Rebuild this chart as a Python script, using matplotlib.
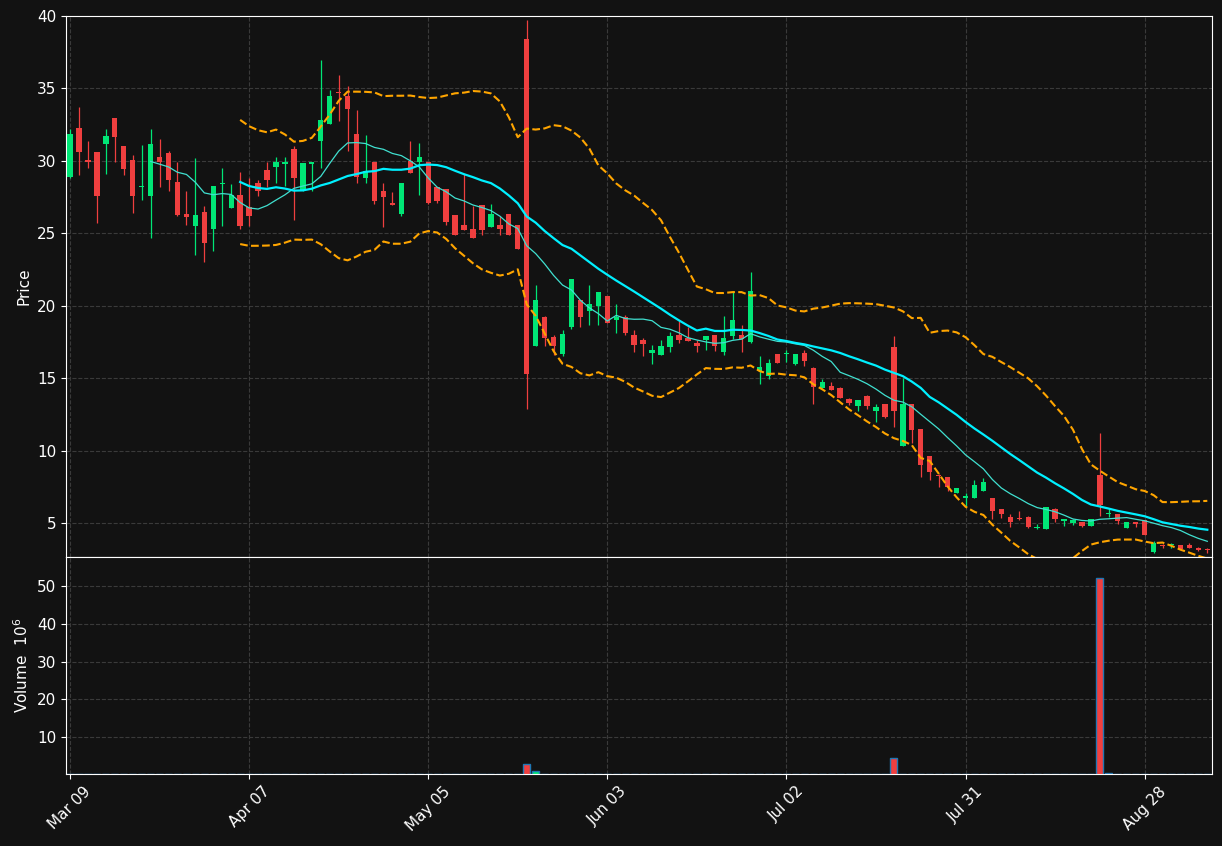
import numpy as np
import pandas as pd
import matplotlib
matplotlib.use("Agg")
import matplotlib.pyplot as plt

opens = [28.9,32.2,30.0,30.6,31.2,32.9,31.0,30.0,28.2,27.6,30.2,30.5,28.5,26.3,25.5,26.45,25.3,28.4,26.75,27.6,
         26.75,28.45,29.35,29.6,29.8,30.75,27.9,29.8,31.35,32.55,34.75,34.45,31.85,28.85,29.9,27.85,27.05,26.3,29.95,29.9,
         29.85,28.15,28.05,26.2,25.5,25.25,26.9,25.45,25.5,26.3,25.5,38.4,17.25,19.2,17.8,16.7,18.55,20.35,19.65,19.95,
         20.6,19.0,19.2,17.95,17.6,16.75,16.6,17.15,17.95,17.7,17.4,17.6,17.95,16.8,17.9,17.95,17.5,15.5,15.15,16.65,
         16.65,15.95,16.7,15.65,14.3,14.45,14.3,13.5,13.05,13.7,12.75,13.15,17.1,10.3,13.15,11.45,9.55,8.3,8.1,7.05,
         6.75,6.75,7.2,6.65,5.95,5.35,5.3,5.35,4.65,4.6,5.9,5.15,5.0,5.0,4.8,8.25,5.6,5.6,4.65,5.0,
         5.15,3.0,3.45,3.45,3.45,3.45,3.25,3.15]
highs = [32.2,33.7,31.4,30.6,32.2,32.9,31.0,30.4,31.1,32.2,31.5,30.7,29.9,27.9,30.2,26.9,28.2,29.5,28.4,29.2,
         28.85,28.7,29.9,30.3,30.3,31.0,29.8,29.9,37.0,34.9,35.95,35.2,33.5,31.8,29.9,28.45,27.85,28.4,31.4,31.25,
         29.85,28.15,28.05,26.2,29.1,26.9,26.9,27.0,26.2,26.3,25.5,39.7,21.4,19.3,17.95,18.3,21.8,20.35,21.4,20.95,
         20.6,20.15,19.35,18.35,17.8,17.3,17.6,18.2,18.95,18.55,17.6,17.85,17.95,19.3,21.0,18.7,22.3,16.5,16.3,16.65,
         16.95,16.6,16.95,15.75,14.95,14.7,14.4,13.6,13.4,13.85,13.2,13.2,17.9,15.0,13.2,11.45,9.6,8.4,8.1,7.4,
         7.1,7.95,8.1,6.65,5.95,5.65,5.8,5.45,4.9,6.05,6.05,5.3,5.25,5.05,5.2,11.2,5.95,5.6,5.05,5.0,
         5.15,3.75,3.55,3.6,3.45,3.65,3.35,3.3]
lows = [28.8,29.0,29.5,25.7,29.1,29.9,29.0,26.4,27.3,24.7,28.2,27.9,26.2,25.6,23.5,23.0,23.8,25.5,26.75,25.3,
        25.5,27.6,28.2,28.45,28.3,25.9,27.9,27.9,29.5,32.55,32.75,30.7,28.45,28.45,27.0,25.45,26.95,26.2,29.15,27.65,
        27.0,27.1,25.6,24.85,25.2,24.7,24.85,25.45,24.9,24.85,23.9,12.9,17.25,17.25,16.6,16.55,18.4,18.55,18.7,18.7,
        18.8,18.1,18.0,16.8,16.55,16.0,16.6,16.8,17.4,17.55,16.8,16.95,16.9,16.6,17.7,16.8,17.4,14.6,14.95,16.05,
        16.1,15.9,15.85,13.2,14.3,14.15,13.6,13.15,12.75,12.85,11.95,12.25,11.6,10.3,10.55,8.2,8.0,7.45,7.2,7.05,
        6.15,6.75,7.2,5.3,5.35,4.75,5.2,4.65,4.55,4.6,5.1,4.8,4.85,4.7,4.8,5.5,5.4,4.95,4.65,4.7,
        4.2,2.9,3.3,3.3,3.2,3.3,3.05,2.95]
closes = [31.8,30.6,29.95,27.6,31.7,31.65,29.45,27.6,28.2,31.1,29.9,28.7,26.25,26.1,26.25,24.35,28.2,28.4,27.6,25.5,
          26.2,27.9,28.65,29.9,29.9,28.8,29.8,29.9,32.75,34.45,34.7,33.55,28.9,29.25,27.2,27.5,26.95,28.4,29.15,30.2,
          27.1,27.2,25.75,24.9,25.2,24.7,25.2,26.3,25.3,24.85,23.9,15.3,20.35,17.8,17.25,18.0,21.8,19.2,20.05,20.9,
          18.8,19.2,18.15,17.3,17.35,16.9,17.2,17.9,17.6,17.55,17.2,17.85,17.2,17.7,19.0,17.7,21.0,15.7,16.0,16.05,
          16.7,16.6,16.15,14.4,14.7,14.2,13.6,13.3,13.45,13.05,13.0,12.3,12.75,13.15,11.45,9.0,8.55,8.25,7.45,7.35,
          6.8,7.55,7.8,5.8,5.6,5.05,5.28,4.7,4.68,6.05,5.25,5.2,5.15,4.8,5.2,6.25,5.62,5.15,5.05,4.9,
          4.2,3.55,3.42,3.48,3.2,3.3,3.1,3.13]
volumes = [0.1]*128
volumes[51] = 2.8
volumes[52] = 0.9
volumes[76] = 0.3
volumes[92] = 4.4
volumes[93] = 0.2
volumes[115] = 52.1
volumes[116] = 0.5
volumes[120] = 0.25
tick_pos = [0, 20, 40, 60, 80, 100, 120]
tick_labels = ["Mar 09", "Apr 07", "May 05", "Jun 03", "Jul 02", "Jul 31", "Aug 28"]

BG = "#121212"
UP = "#00e676"
DN = "#ef3f3f"
plt.rcParams['font.family'] = ['DejaVu Sans']
fig = plt.figure(figsize=(12.22, 8.46), dpi=100, facecolor=BG)
ax = fig.add_axes([0.054, 0.3416, 0.938, 0.6394])
axv = fig.add_axes([0.054, 0.085, 0.938, 0.2566], sharex=ax)

o = np.array(opens); h = np.array(highs); l = np.array(lows); c = np.array(closes)
x = np.arange(len(o))
up = c >= o
cols = np.where(up, UP, DN)
ax.vlines(x, l, h, colors=cols, linewidth=0.9, zorder=2)
ax.bar(x, np.abs(c - o) + 0.04, bottom=np.minimum(o, c), width=0.6, color=cols, zorder=3)

cs = pd.Series(c)
ma10 = cs.rolling(10).mean()
ma20 = cs.rolling(20).mean()
sd = cs.rolling(20).std(ddof=0)
ax.plot(x, ma10, color="#40e0d0", lw=0.9, zorder=4)
ax.plot(x, ma20, color="#00f0ff", lw=1.6, zorder=4)
ax.plot(x, ma20 + 2 * sd, color="#ffa500", lw=1.5, ls="--", zorder=4)
ax.plot(x, ma20 - 2 * sd, color="#ffa500", lw=1.5, ls="--", zorder=4)

axv.bar(x, volumes, width=0.8, color=cols, edgecolor="#1f77b4", linewidth=1.0)

for a in (ax, axv):
    a.set_facecolor(BG)
    a.grid(True, color="#3a3a3a", ls="--", lw=0.8)
    a.set_axisbelow(True)
    for s in a.spines.values():
        s.set_color("white")
    a.tick_params(colors="white", labelsize=11)
ax.set_xlim(-0.45, 127.55)
ax.set_ylim(2.65, 40.0)
ax.set_yticks([5, 10, 15, 20, 25, 30, 35, 40])
axv.set_ylim(0.2, 57.7)
axv.set_yticks([10, 20, 30, 40, 50])
ax.set_ylabel("Price", color="white", fontsize=11)
axv.set_ylabel("Volume  $10^6$", color="white", fontsize=11)
ax.tick_params(labelbottom=False)
axv.set_xticks(tick_pos)
axv.set_xticklabels(tick_labels, rotation=45, ha="center")
fig.savefig("out.png", dpi=100, facecolor=BG)
